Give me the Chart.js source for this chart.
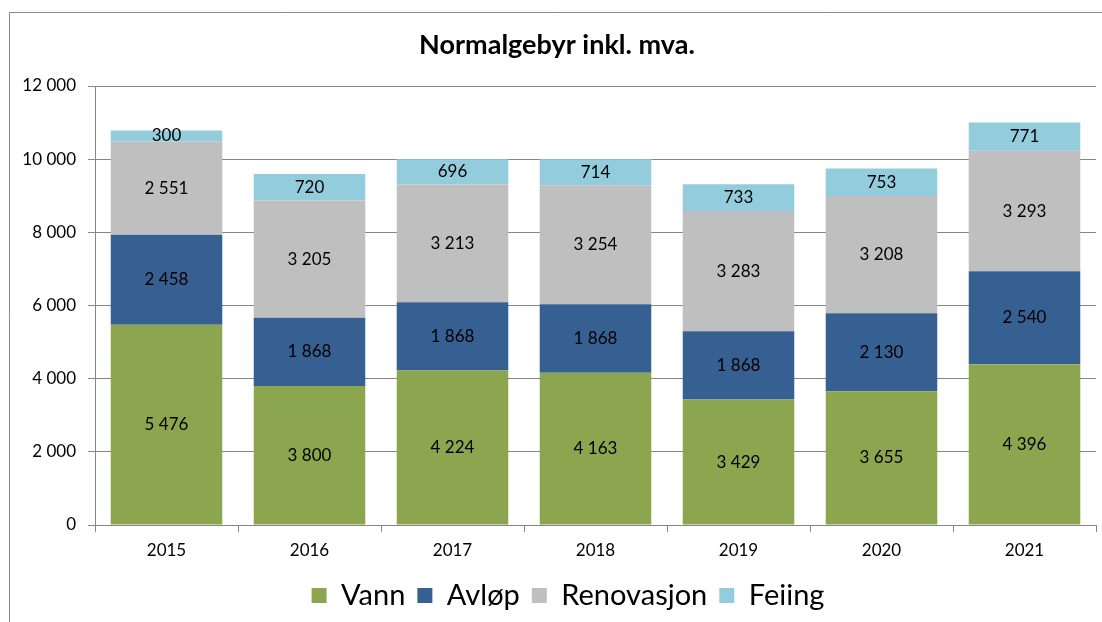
<!DOCTYPE html>
<html>
<head>
<meta charset="utf-8">
<script src="https://cdn.jsdelivr.net/npm/chart.js@4/dist/chart.umd.min.js"></script>
<style>
  html, body { margin: 0; padding: 0; background: #fff; }
  #wrap { width: 1102px; height: 622px; }
</style>
</head>
<body>
<div id="wrap"><canvas id="chart" width="1102" height="622"></canvas></div>
<script>
const years = ['2015', '2016', '2017', '2018', '2019', '2020', '2021'];
const vann = [5476, 3800, 4224, 4163, 3429, 3655, 4396];
const avlop = [2458, 1868, 1868, 1868, 1868, 2130, 2540];
const renovasjon = [2551, 3205, 3213, 3254, 3283, 3208, 3293];
const feiing = [300, 720, 696, 714, 733, 753, 771];

const FONT = 'Lato, "Open Sans", sans-serif';

function fmt(v) {
  return String(v).replace(/\B(?=(\d{3})+(?!\d))/g, ' ');
}

// outer frame like the pasted excel chart
const frame = {
  id: 'frame',
  beforeDraw(chart) {
    const ctx = chart.ctx;
    ctx.save();
    ctx.strokeStyle = '#8c8c8c';
    ctx.lineWidth = 1;
    ctx.beginPath();
    ctx.moveTo(9.5, 622);
    ctx.lineTo(9.5, 12.5);
    ctx.lineTo(1102, 12.5);
    ctx.stroke();
    ctx.restore();
  }
};

// legend sits a little right of centre in the original
const nudgeLegend = {
  id: 'nudgeLegend',
  afterUpdate(chart) {
    const lg = chart.legend;
    if (!lg) return;
    lg.left += 11;
    lg.right += 11;
    lg.adjustHitBoxes();
  }
};

// value labels centred in every segment
const labels = {
  id: 'labels',
  afterDatasetsDraw(chart) {
    const ctx = chart.ctx;
    ctx.save();
    ctx.font = '17px ' + FONT;
    ctx.fillStyle = '#000';
    ctx.textAlign = 'center';
    ctx.textBaseline = 'middle';
    chart.data.datasets.forEach((ds, i) => {
      chart.getDatasetMeta(i).data.forEach((bar, j) => {
        const y = (bar.y + bar.base) / 2;
        ctx.fillText(fmt(ds.data[j]), bar.x, y);
      });
    });
    ctx.restore();
  }
};

new Chart(document.getElementById('chart'), {
  type: 'bar',
  data: {
    labels: years,
    datasets: [
      { label: 'Vann', data: vann, backgroundColor: '#8ba64e' },
      { label: 'Avløp', data: avlop, backgroundColor: '#366092' },
      { label: 'Renovasjon', data: renovasjon, backgroundColor: '#bfbfbf' },
      { label: 'Feiing', data: feiing, backgroundColor: '#93cddd' },
    ]
  },
  options: {
    responsive: false,
    animation: false,
    layout: { padding: { left: 18, right: 6, top: 0, bottom: 2 } },
    datasets: { bar: { categoryPercentage: 0.78, barPercentage: 1 } },
    plugins: {
      tooltip: { enabled: false },
      title: {
        display: true,
        text: 'Normalgebyr inkl. mva.',
        color: '#000',
        font: { family: FONT, size: 27, weight: 'bold' },
        padding: { top: 29, bottom: 24.6 }
      },
      legend: {
        position: 'bottom',
        labels: {
          color: '#000',
          font: { family: FONT, size: 29 },
          boxWidth: 15,
          boxHeight: 15,
          padding: 12
        }
      }
    },
    scales: {
      x: {
        stacked: true,
        grid: { drawOnChartArea: false, drawTicks: true, tickLength: 7, color: '#868686' },
        border: { color: '#868686' },
        ticks: { color: '#000', font: { family: FONT, size: 17 }, padding: 8 },
        afterFit(s) { s.height = 44; }
      },
      y: {
        stacked: true,
        min: 0,
        max: 12000,
        grid: { color: '#868686', tickLength: 7 },
        border: { color: '#868686' },
        ticks: {
          stepSize: 2000,
          color: '#000',
          font: { family: FONT, size: 17 },
          padding: 12,
          callback: v => fmt(v)
        },
        afterFit(s) { s.width = 77; }
      }
    }
  },
  plugins: [frame, nudgeLegend, labels]
});
</script>
</body>
</html>
